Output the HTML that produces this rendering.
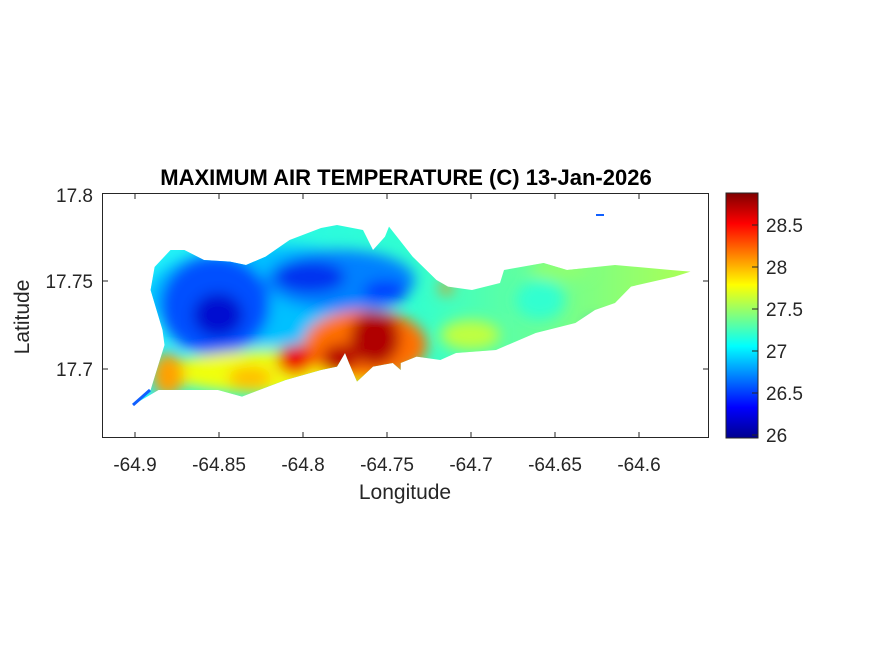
<!DOCTYPE html>
<html><head><meta charset="utf-8"><style>body{margin:0;background:#fff}svg text{font-family:"Liberation Sans",Arial,sans-serif}</style></head>
<body>
<svg width="875" height="656" xmlns="http://www.w3.org/2000/svg">
<defs>
<clipPath id="isl"><polygon points="132.7,405 150.6,390 164.5,345 162.5,330 150.6,290 154.6,267 170.5,250 184.4,250 204,260 230,261.6 246,265 265.7,256.6 289.6,240 321,228 337,225 363,230 373,250 385,236.6 389,226.6 412.6,256.6 436.5,280 448,286.6 472,290 500,283 504,270 543.6,263 567,270 615,265 670.7,270 690.5,271.6 674.7,276.6 631,286.6 615,303 595,310 575.4,323 535.7,333 496,350 456,353 440.4,360 416.6,356.6 400.7,363 400.7,370 392.8,363 373,366.6 357,381.6 349,363 345,353 337,366.6 321,370 285.6,380 242,396.6 218,390 158.5,390 138.7,401.6"/></clipPath>
<linearGradient id="base" x1="0" x2="1"><stop offset="0" stop-color="#20f0ff"/><stop offset="0.5" stop-color="#30ffd0"/><stop offset="0.75" stop-color="#70ff90"/><stop offset="1" stop-color="#b0ff50"/></linearGradient>
<filter id="bl" x="-20%" y="-20%" width="140%" height="140%"><feGaussianBlur stdDeviation="7"/></filter>
<linearGradient id="jet" x1="0" y1="1" x2="0" y2="0"><stop offset="0" stop-color="#00008f"/><stop offset="0.125" stop-color="#0000ff"/><stop offset="0.375" stop-color="#00ffff"/><stop offset="0.625" stop-color="#ffff00"/><stop offset="0.875" stop-color="#ff0000"/><stop offset="1" stop-color="#800000"/></linearGradient>
</defs>
<g clip-path="url(#isl)">
<rect x="120" y="215" width="580" height="200" fill="url(#base)"/>
<g filter="url(#bl)">
<ellipse cx="270" cy="295" rx="125" ry="50" fill="#00c0ff"/>
<ellipse cx="340" cy="280" rx="75" ry="30" fill="#0080ff"/>
<ellipse cx="215" cy="305" rx="55" ry="50" fill="#0050ff"/>
<ellipse cx="218" cy="315" rx="25" ry="22" fill="#0010d0"/>
<ellipse cx="310" cy="277" rx="35" ry="16" fill="#0030f0"/>
<ellipse cx="385" cy="292" rx="22" ry="12" fill="#0040ff"/>
<ellipse cx="280" cy="372" rx="120" ry="22" fill="#f0ff10"/>
<ellipse cx="365" cy="345" rx="62" ry="35" fill="#ff7000"/>
<ellipse cx="168" cy="375" rx="16" ry="22" fill="#ffa000"/>
<ellipse cx="250" cy="378" rx="22" ry="12" fill="#ffc000"/>
<ellipse cx="295" cy="360" rx="18" ry="15" fill="#ee0000"/>
<ellipse cx="375" cy="338" rx="25" ry="28" fill="#b00000"/>
<ellipse cx="340" cy="358" rx="18" ry="14" fill="#b80000"/>
<ellipse cx="446" cy="288" rx="6" ry="6" fill="#ff8000"/>
<ellipse cx="595" cy="325" rx="8" ry="5" fill="#0080ff"/>
<ellipse cx="470" cy="335" rx="30" ry="15" fill="#c0ff40"/>
<ellipse cx="540" cy="300" rx="25" ry="20" fill="#30ffd0"/>
<ellipse cx="560" cy="270" rx="30" ry="10" fill="#90ff70"/>
</g>
</g>
<line x1="133" y1="405" x2="150" y2="390" stroke="#1060ff" stroke-width="3"/>
<line x1="596" y1="215" x2="604" y2="215" stroke="#1060ff" stroke-width="2"/>
<rect x="102.5" y="193.5" width="606" height="244" fill="none" stroke="#262626" stroke-width="1"/>
<g stroke="#262626">
<line x1="135" y1="438" x2="135" y2="432"/><line x1="219" y1="438" x2="219" y2="432"/><line x1="303" y1="438" x2="303" y2="432"/><line x1="387" y1="438" x2="387" y2="432"/><line x1="471" y1="438" x2="471" y2="432"/><line x1="555" y1="438" x2="555" y2="432"/><line x1="639" y1="438" x2="639" y2="432"/>
<line x1="135" y1="193" x2="135" y2="199"/><line x1="219" y1="193" x2="219" y2="199"/><line x1="303" y1="193" x2="303" y2="199"/><line x1="387" y1="193" x2="387" y2="199"/><line x1="471" y1="193" x2="471" y2="199"/><line x1="555" y1="193" x2="555" y2="199"/><line x1="639" y1="193" x2="639" y2="199"/>
<line x1="102" y1="281" x2="108" y2="281"/><line x1="102" y1="369" x2="108" y2="369"/>
<line x1="709" y1="281" x2="703" y2="281"/><line x1="709" y1="369" x2="703" y2="369"/>
</g>
<g font-size="19" fill="#262626" text-anchor="middle">
<text x="135" y="471">-64.9</text><text x="219" y="471">-64.85</text><text x="303" y="471">-64.8</text><text x="387" y="471">-64.75</text><text x="471" y="471">-64.7</text><text x="555" y="471">-64.65</text><text x="639" y="471">-64.6</text>
</g>
<g font-size="19" fill="#262626" text-anchor="end">
<text x="93" y="202">17.8</text><text x="93" y="288">17.75</text><text x="93" y="376">17.7</text>
</g>
<text x="405" y="499" font-size="21" fill="#262626" text-anchor="middle">Longitude</text>
<text transform="translate(29,317) rotate(-90)" font-size="21" fill="#262626" text-anchor="middle">Latitude</text>
<text x="406" y="185" font-size="22" font-weight="bold" fill="#000" text-anchor="middle">MAXIMUM AIR TEMPERATURE (C) 13-Jan-2026</text>
<rect x="726" y="193" width="32" height="245" fill="url(#jet)" stroke="#262626" stroke-width="1"/>
<g stroke="#262626"><line x1="752" y1="435" x2="758" y2="435"/><line x1="752" y1="393" x2="758" y2="393"/><line x1="752" y1="351" x2="758" y2="351"/><line x1="752" y1="309" x2="758" y2="309"/><line x1="752" y1="267" x2="758" y2="267"/><line x1="752" y1="225" x2="758" y2="225"/></g>
<g font-size="19" fill="#262626">
<text x="766" y="442">26</text><text x="766" y="400">26.5</text><text x="766" y="358">27</text><text x="766" y="316">27.5</text><text x="766" y="274">28</text><text x="766" y="232">28.5</text>
</g>
</svg>
</body></html>
